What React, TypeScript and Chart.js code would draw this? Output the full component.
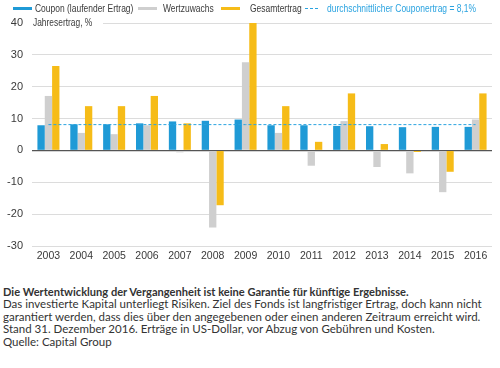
import React, { useEffect, useRef } from "react";
import { Chart, registerables } from "chart.js";

Chart.register(...registerables);

const years = ["2003","2004","2005","2006","2007","2008","2009","2010","2011","2012","2013","2014","2015","2016"];
const coupon = [7.9, 8.2, 8.2, 8.5, 9.1, 9.3, 9.7, 7.9, 7.9, 7.7, 7.6, 7.3, 7.4, 7.4];
const wertzuwachs = [17.1, 5.5, 5.1, 7.9, -0.6, -24.2, 27.7, 5.5, -4.8, 9.2, -5.2, -7.2, -13.1, 9.7];
const gesamtertrag = [26.5, 13.9, 13.9, 17.1, 8.5, -17.2, 40, 13.9, 2.7, 17.9, 2.0, -0.5, -6.7, 17.9];
const avgCoupon = [8.1, 8.1, 8.1, 8.1, 8.1, 8.1, 8.1, 8.1, 8.1, 8.1, 8.1, 8.1, 8.1, 8.1];
const yTicks = [40, 30, 20, 10, 0, -10, -20, -30];

const BLUE = "#1f9ad6";
const GRAY = "#cfcfcf";
const ORANGE = "#f6bc18";
const DASH = "#2aa3e0";
const TXT = "#3a3a3a";
const CHART_FONT = "'Liberation Sans', Arial, sans-serif";
const NOTE_FONT = "Lato, 'Open Sans', sans-serif";

const axisLabelPlugin = {
  id: "axisLabel",
  beforeDatasetsDraw(chart: any) {
    const { ctx, chartArea, scales } = chart;
    const y = scales.y.getPixelForValue(40);
    ctx.save();
    ctx.fillStyle = "#ffffff";
    ctx.fillRect(chartArea.left - 1, y - 6, 72, 12);
    ctx.fillStyle = TXT;
    ctx.font = `10.5px ${CHART_FONT}`;
    ctx.textBaseline = "middle";
    ctx.textAlign = "left";
    ctx.translate(chartArea.left + 1, y);
    ctx.scale(0.8, 1);
    ctx.fillText("Jahresertrag, %", 0, 0);
    ctx.restore();
  },
};

export default function App() {
  const ref = useRef<HTMLCanvasElement | null>(null);

  useEffect(() => {
    document.body.style.margin = "0";
    const chart = new Chart(ref.current as HTMLCanvasElement, {
      type: "bar",
      data: {
        labels: years,
        datasets: [
          { type: "bar", label: "Coupon (laufender Ertrag)", data: coupon, backgroundColor: BLUE, order: 1 },
          { type: "bar", label: "Wertzuwachs", data: wertzuwachs, backgroundColor: GRAY, order: 1 },
          { type: "bar", label: "Gesamtertrag", data: gesamtertrag, backgroundColor: ORANGE, order: 1 },
          {
            type: "line",
            label: "durchschnittlicher Couponertrag = 8,1%",
            data: avgCoupon,
            borderColor: DASH,
            borderWidth: 1,
            borderDash: [3, 2],
            pointRadius: 0,
            fill: false,
            order: 0,
          } as any,
        ],
      },
      options: {
        animation: false,
        responsive: false,
        maintainAspectRatio: false,
        layout: { padding: { top: 23, right: 8, bottom: 2, left: 0 } },
        datasets: { bar: { barPercentage: 1.0, categoryPercentage: 0.67 } } as any,
        plugins: { legend: { display: false }, tooltip: { enabled: false } },
        scales: {
          x: {
            grid: { display: false, drawTicks: false },
            border: { display: false },
            ticks: { color: TXT, font: { family: CHART_FONT, size: 10.5 }, padding: 4, maxRotation: 0 },
            afterFit(scale: any) { scale.height = 20; },
          },
          y: {
            min: -30,
            max: 40,
            afterBuildTicks(scale: any) { scale.ticks = yTicks.map((v) => ({ value: v })); },
            grid: {
              drawTicks: false,
              color: (c: any) => (c.tick && c.tick.value === 0 ? "#555555" : "#dcdcdc"),
              lineWidth: (c: any) => (c.tick && c.tick.value === 0 ? 1.2 : 1),
            },
            border: { display: false },
            ticks: { color: TXT, font: { family: CHART_FONT, size: 11 }, padding: 9 },
            afterFit(scale: any) { scale.width = 32; },
          },
        },
      },
      plugins: [axisLabelPlugin],
    });
    return () => chart.destroy();
  }, []);

  const legendText: React.CSSProperties = {
    position: "absolute", top: 1, fontFamily: CHART_FONT, fontSize: 11, color: TXT,
    whiteSpace: "nowrap", lineHeight: "14px", transform: "scaleX(0.77)", transformOrigin: "left center",
  };
  const marker = (left: number, color: string): React.CSSProperties => ({ position: "absolute", left, top: 7, width: 19, height: 3, background: color });

  return (
    <div style={{ position: "relative", width: 500, height: 368, background: "#fff", overflow: "hidden" }}>
      <canvas ref={ref} width={500} height={268} style={{ position: "absolute", left: 0, top: 0 }} />
      <div style={marker(13, BLUE)} />
      <div style={{ ...legendText, left: 35 }}>Coupon (laufender Ertrag)</div>
      <div style={marker(138, GRAY)} />
      <div style={{ ...legendText, left: 163 }}>Wertzuwachs</div>
      <div style={marker(221, ORANGE)} />
      <div style={{ ...legendText, left: 250 }}>Gesamtertrag</div>
      <div style={{ position: "absolute", left: 305, top: 8, width: 13, height: 0, borderTop: `1px dashed ${DASH}` }} />
      <div style={{ ...legendText, left: 327, color: DASH }}>durchschnittlicher Couponertrag = 8,1%</div>
      <div style={{ position: "absolute", left: 3, top: 286, fontFamily: NOTE_FONT, fontSize: 11.5, lineHeight: "12.4px", color: "#333" }}>
        <div style={{ fontWeight: 700, fontSize: 11.1 }}>Die Wertentwicklung der Vergangenheit ist keine Garantie für künftige Ergebnisse.</div>
        <div>Das investierte Kapital unterliegt Risiken. Ziel des Fonds ist langfristiger Ertrag, doch kann nicht</div>
        <div>garantiert werden, dass dies über den angegebenen oder einen anderen Zeitraum erreicht wird.</div>
        <div>Stand 31. Dezember 2016. Erträge in US-Dollar, vor Abzug von Gebühren und Kosten.</div>
        <div>Quelle: Capital Group</div>
      </div>
    </div>
  );
}
